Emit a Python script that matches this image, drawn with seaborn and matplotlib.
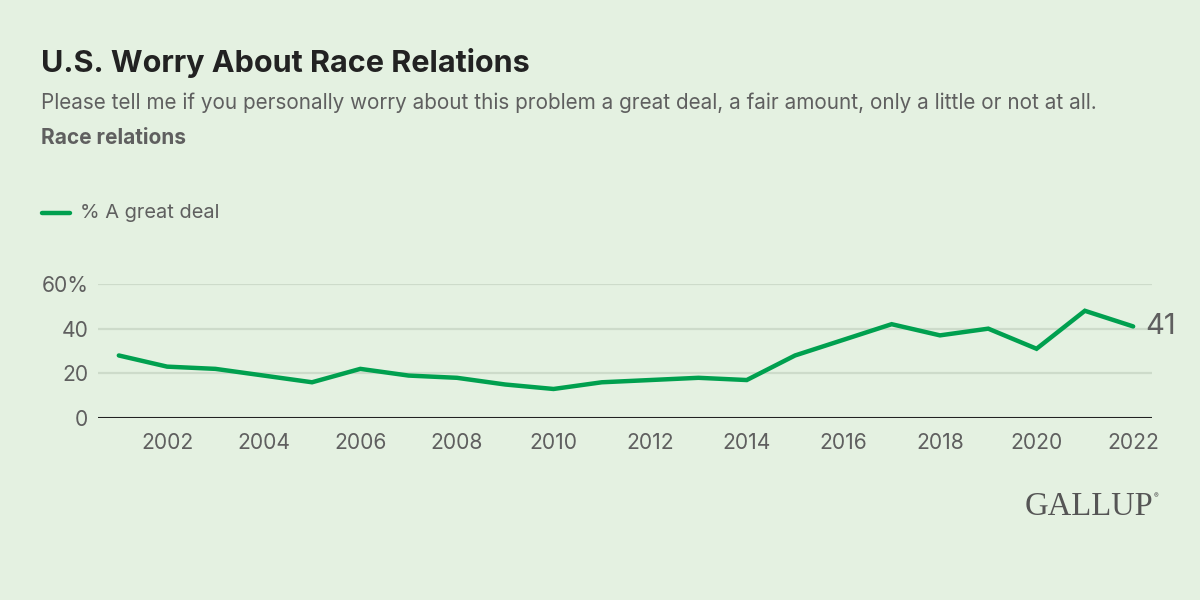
"""
U.S. worry about race relations, Gallup style line chart
"""

import matplotlib
matplotlib.use("Agg")
import matplotlib.pyplot as plt
import seaborn as sns
import pandas as pd

years = list(range(2001, 2023))
great_deal = [28, 23, 22, 19, 16, 22, 19, 18, 15, 13, 16, 17, 18, 17,
              28, 35, 42, 37, 40, 31, 48, 41]
x_ticks = list(range(2002, 2023, 2))
y_ticks = [0, 20, 40, 60]
y_labels = ["0", "20", "40", "60%"]

BG = "#e4f1e1"
GREEN = "#00a04f"

sns.set_theme(style="white")
plt.rcParams["font.family"] = ["Inter", "DejaVu Sans"]

df = pd.DataFrame({"year": years, "pct": great_deal})

fig = plt.figure(figsize=(12, 6), dpi=100, facecolor=BG)
ax = fig.add_axes([0.0817, 0.3033, 0.8783, 0.2234], facecolor=BG)

sns.lineplot(data=df, x="year", y="pct", ax=ax, color=GREEN, linewidth=3.2,
             clip_on=False, solid_joinstyle="miter")

ax.set_xlim(2000.57, 2022.39)
ax.set_ylim(0, 60)
ax.set_xticks(x_ticks)
ax.set_xticklabels([str(y) for y in x_ticks])
ax.set_yticks(y_ticks)
ax.set_yticklabels(y_labels)
ax.set_xlabel("")
ax.set_ylabel("")
ax.tick_params(axis="both", length=0, labelsize=15.2, colors="#5f5f5f")
ax.tick_params(axis="x", pad=11)
ax.tick_params(axis="y", pad=7)

for y in y_ticks[1:]:
    ax.axhline(y, color="#cddbca", linewidth=1.6, zorder=0)
ax.axhline(0, color="#222222", linewidth=1.5, zorder=1)
for s in ax.spines.values():
    s.set_visible(False)

# end label
ax.annotate(str(great_deal[-1]), xy=(years[-1], great_deal[-1]), xytext=(9, 0),
            textcoords="offset points", va="center", ha="left",
            fontsize=21, color="#5f5f5f", annotation_clip=False)

# headings
fig.text(0.034, 0.88, "U.S. Worry About Race Relations", fontsize=22,
         fontweight="bold", color="#222222", va="baseline")
fig.text(0.034, 0.818, "Please tell me if you personally worry about this problem "
         "a great deal, a fair amount, only a little or not at all.",
         fontsize=14.9, color="#5f5f5f", va="baseline")
fig.text(0.034, 0.76, "Race relations", fontsize=15, fontweight="bold",
         color="#5f5f5f", va="baseline")

# legend
fig.add_artist(plt.Line2D([0.035, 0.058], [0.645, 0.645], color=GREEN,
                          linewidth=3.2, transform=fig.transFigure))
fig.text(0.067, 0.645, "% A great deal", fontsize=14.4, color="#5f5f5f",
         va="center")

# logo
fig.text(0.854, 0.142, "GALLUP", fontsize=23.5, color="#555555",
         family=["Liberation Serif", "DejaVu Serif"], va="baseline")
fig.text(0.9615, 0.17, "®", fontsize=5, color="#555555", va="baseline")

plt.savefig("out.png", dpi=100, facecolor=BG)
plt.close()
